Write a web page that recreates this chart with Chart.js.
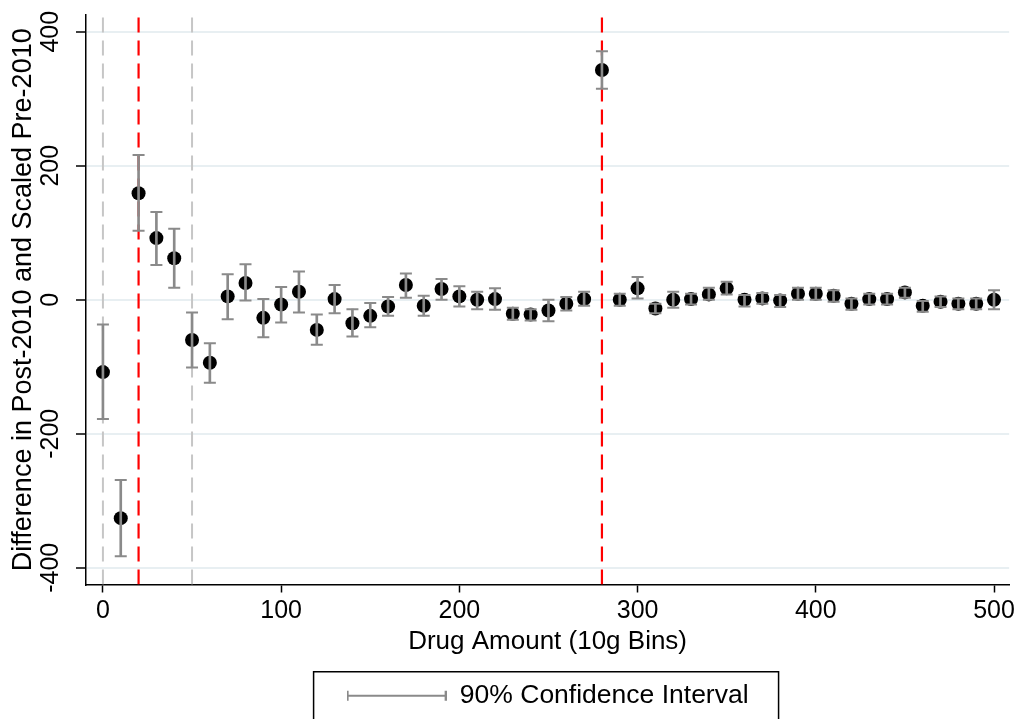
<!DOCTYPE html>
<html><head><meta charset="utf-8">
<script src="https://cdn.jsdelivr.net/npm/chart.js@4/dist/chart.umd.min.js"></script>
<style>html,body{margin:0;padding:0;background:#fff}#wrap{width:1019px;height:719px;position:relative}</style>
</head><body><div id="wrap"><canvas id="c"></canvas></div>
<script>
const bins = [0,10,20,30,40,50,60,70,80,90,100,110,120,130,140,150,160,170,180,190,200,210,220,230,240,250,260,270,280,290,300,310,320,330,340,350,360,370,380,390,400,410,420,430,440,450,460,470,480,490,500];
const estimate = [-108,-326,159,92,62,-60,-94,5,25,-27,-7,12,-45,1,-35,-24,-10,22,-9,16,5,0,1,-21,-22,-16,-6,1,343,0,17,-13,0,1,8,17,0,2,-1,9,9,6,-6,1,1,11,-9,-3,-6,-6,0];
const ciLower = [-178,-383,103,52,18,-101,-124,-29,-1,-56,-34,-19,-67,-20,-55,-41,-24,3,-24,0,-10,-14,-15,-30,-31,-32,-16,-9,315,-9,2,-20,-12,-7,0,8,-10,-6,-11,0,0,-3,-15,-7,-7,3,-18,-11,-14,-14,-14];
const ciUpper = [-37,-269,216,131,106,-19,-65,38,53,1,19,42,-22,22,-14,-5,4,39,6,31,20,12,17,-12,-14,0,4,12,371,9,34,-6,12,9,18,27,7,10,7,18,18,14,2,9,9,18,-2,5,2,2,14];
const xTickValues = [0,100,200,300,400,500];
const yTickValues = [-400,-200,0,200,400];
const refLinesGray = [0,50];
const refLinesRed = [20,280];
const xTitle = 'Drug Amount (10g Bins)';
const yTitle = 'Difference in Post-2010 and Scaled Pre-2010';
const legendLabel = '90% Confidence Interval';

const X_MIN = -9.5, X_MAX = 508.5, Y_MIN = -425, Y_MAX = 425;
const FAMILY = '"Liberation Sans", Arial, Helvetica, sans-serif';
const GRAY = '#8a8a8a';

// legend symbol (error bar icon)
const ciIcon = document.createElement('canvas');
ciIcon.width = 100; ciIcon.height = 12;
(function(){
  const g = ciIcon.getContext('2d');
  g.strokeStyle = GRAY; g.lineWidth = 2;
  g.beginPath();
  g.moveTo(1,6); g.lineTo(99,6);
  g.moveTo(1,1); g.lineTo(1,11);
  g.moveTo(99,1); g.lineTo(99,11);
  g.stroke();
})();

const refDatasets = [];
refLinesGray.forEach(v => refDatasets.push({type:'line', data:[{x:v,y:Y_MIN},{x:v,y:Y_MAX}], borderColor:'#c6c6c6', borderWidth:2, borderDash:[15,8], pointRadius:0, order:5}));
refLinesRed.forEach(v => refDatasets.push({type:'line', data:[{x:v,y:Y_MIN},{x:v,y:Y_MAX}], borderColor:'#ff0000', borderWidth:2.2, borderDash:[15,8], pointRadius:0, order:4}));

const capData = [];
bins.forEach((b,i) => { capData.push({x:b,y:ciLower[i]}); capData.push({x:b,y:ciUpper[i]}); });

const legendBorder = {
  id:'legendBorder',
  afterDraw(chart){
    const hb = chart.legend && chart.legend.legendHitBoxes && chart.legend.legendHitBoxes[0];
    if(!hb) return;
    const ctx = chart.ctx;
    const cy = hb.top + hb.height/2;
    ctx.save();
    ctx.strokeStyle = '#000'; ctx.lineWidth = 1.5;
    ctx.strokeRect(hb.left - 33, cy - 24, hb.width + 63, 48);
    ctx.restore();
  }
};

new Chart(document.getElementById('c'), {
  type:'scatter',
  data:{ datasets:[
    {type:'scatter', label:'estimate', data: bins.map((b,i)=>({x:b,y:estimate[i]})), pointRadius:7, pointHoverRadius:7, backgroundColor:'#000', borderWidth:0, order:3},
    {type:'bar', label:legendLabel, data: bins.map((b,i)=>({x:b,y:[ciLower[i],ciUpper[i]]})), backgroundColor:GRAY, barThickness:2, borderWidth:0, borderSkipped:false, grouped:false, order:1},
    {type:'scatter', label:'caps', data: capData, pointStyle:'line', pointRadius:6, pointHoverRadius:6, borderColor:GRAY, borderWidth:2, order:2},
    ...refDatasets
  ]},
  plugins:[legendBorder],
  options:{
    responsive:true, maintainAspectRatio:false, animation:false,
    layout:{padding:{top:13, right:8, left:0, bottom:0}},
    plugins:{
      tooltip:{enabled:false},
      legend:{ position:'bottom', fullSize:false, onClick:null,
        labels:{ usePointStyle:true, pointStyleWidth:100, padding:10, color:'#000', font:{size:26.5, family:FAMILY},
          generateLabels: () => [{text:legendLabel, pointStyle:ciIcon, fillStyle:'rgba(0,0,0,0)', strokeStyle:'rgba(0,0,0,0)', lineWidth:0, hidden:false, fontColor:'#000', datasetIndex:1}] } }
    },
    scales:{
      x:{ type:'linear', min:X_MIN, max:X_MAX, offset:false,
        afterBuildTicks: s => { s.ticks = xTickValues.map(v=>({value:v})); },
        afterFit: s => { s.height = 88; },
        grid:{ offset:false, drawOnChartArea:false, drawTicks:true, tickLength:8, tickColor:'#000', tickWidth:1.5 },
        border:{ color:'#000', width:1.5 },
        ticks:{ color:'#000', font:{size:25, family:FAMILY}, padding:4, maxRotation:0, minRotation:0 },
        title:{ display:true, text:xTitle, color:'#000', font:{size:26, family:FAMILY}, padding:{top:0, bottom:15} } },
      y:{ type:'linear', min:Y_MIN, max:Y_MAX,
        afterBuildTicks: s => { s.ticks = yTickValues.map(v=>({value:v})); },
        afterFit: s => { s.width = 86; },
        grid:{ color:'#e8eff2', lineWidth:2, drawTicks:true, tickLength:10, tickColor:'#000', tickWidth:1.5 },
        border:{ color:'#000', width:1.5 },
        ticks:{ color:'#000', font:{size:25, family:FAMILY}, minRotation:90, maxRotation:90, crossAlign:'center', padding:0 },
        title:{ display:true, text:yTitle, color:'#000', font:{size:27, family:FAMILY}, padding:{top:7, bottom:0} } }
    }
  }
});
</script></body></html>
